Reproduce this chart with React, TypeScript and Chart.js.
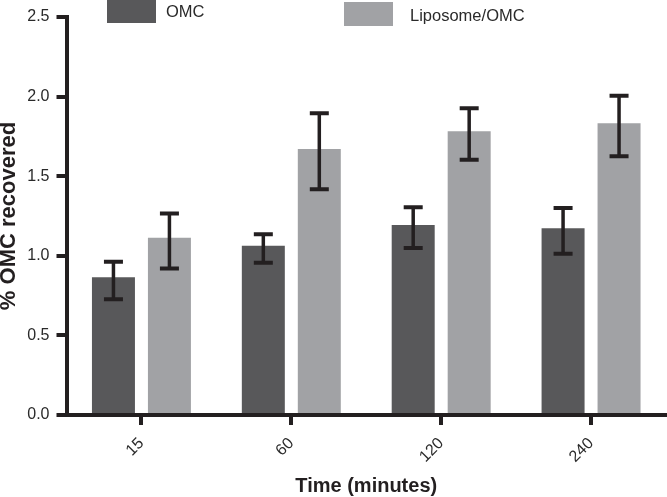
import React, { useEffect, useRef } from "react";
import { Chart, registerables } from "chart.js";

Chart.register(...registerables);

const categories = ["15", "60", "120", "240"];
const seriesNames = ["OMC", "Liposome/OMC"];
const omcMean = [0.865, 1.063, 1.193, 1.173];
const omcHigh = [0.963, 1.135, 1.305, 1.3];
const omcLow = [0.727, 0.957, 1.049, 1.013];
const lipoMean = [1.114, 1.671, 1.782, 1.832];
const lipoHigh = [1.266, 1.895, 1.927, 2.006];
const lipoLow = [0.921, 1.418, 1.604, 1.625];
const yTicks = [0, 0.5, 1.0, 1.5, 2.0, 2.5];

const AXIS = "#231f20";
const FONT = "'Liberation Sans', Arial, Helvetica, sans-serif";
const COLORS = ["#58585a", "#a1a2a5"];

const errorBarPlugin = {
  id: "errorBars",
  afterDatasetsDraw(chart: any) {
    const ctx = chart.ctx;
    const y = chart.scales.y;
    chart.data.datasets.forEach((ds: any, i: number) => {
      const meta = chart.getDatasetMeta(i);
      meta.data.forEach((bar: any, j: number) => {
        const hi = y.getPixelForValue(ds.errHigh[j]);
        const lo = y.getPixelForValue(ds.errLow[j]);
        const x = bar.x;
        const cap = 9.5;
        ctx.save();
        ctx.strokeStyle = AXIS;
        ctx.lineWidth = 3.5;
        ctx.beginPath();
        ctx.moveTo(x, hi);
        ctx.lineTo(x, lo);
        ctx.stroke();
        ctx.lineWidth = 4;
        ctx.beginPath();
        ctx.moveTo(x - cap, hi);
        ctx.lineTo(x + cap, hi);
        ctx.moveTo(x - cap, lo);
        ctx.lineTo(x + cap, lo);
        ctx.stroke();
        ctx.restore();
      });
    });
  },
};

const legendPlugin = {
  id: "customLegend",
  afterDraw(chart: any) {
    const ctx = chart.ctx;
    const items = [
      { bx: 107, by: -1, tx: 166, ty: 17 },
      { bx: 344, by: 2, tx: 410, ty: 21 },
    ];
    chart.data.datasets.forEach((ds: any, i: number) => {
      const it = items[i];
      ctx.save();
      ctx.fillStyle = ds.backgroundColor;
      ctx.fillRect(it.bx, it.by, 49, 24);
      ctx.fillStyle = "#2a2a2a";
      ctx.font = `16.5px ${FONT}`;
      ctx.textBaseline = "alphabetic";
      ctx.textAlign = "left";
      ctx.fillText(ds.label, it.tx, it.ty);
      ctx.restore();
    });
  },
};

export default function App() {
  const ref = useRef<HTMLCanvasElement | null>(null);

  useEffect(() => {
    document.body.style.margin = "0";
    const canvas = ref.current;
    if (!canvas) return;
    const chart = new Chart(canvas, {
      type: "bar",
      data: {
        labels: categories,
        datasets: [
          {
            label: seriesNames[0],
            data: omcMean,
            backgroundColor: COLORS[0],
            errHigh: omcHigh,
            errLow: omcLow,
            categoryPercentage: 0.747,
            barPercentage: 0.768,
          } as any,
          {
            label: seriesNames[1],
            data: lipoMean,
            backgroundColor: COLORS[1],
            errHigh: lipoHigh,
            errLow: lipoLow,
            categoryPercentage: 0.747,
            barPercentage: 0.768,
          } as any,
        ],
      },
      options: {
        responsive: false,
        animation: false,
        devicePixelRatio: 1,
        layout: { padding: { top: 17, right: 1, bottom: 0, left: 0 } },
        plugins: { legend: { display: false }, tooltip: { enabled: false } },
        scales: {
          x: {
            offset: true,
            grid: {
              display: true,
              offset: false,
              drawOnChartArea: false,
              drawTicks: true,
              tickLength: 10,
              color: AXIS,
              lineWidth: 4,
            },
            border: { display: true, color: AXIS, width: 4 },
            ticks: {
              color: "#2a2a2a",
              font: { family: FONT, size: 16 },
              minRotation: 45,
              maxRotation: 45,
              padding: 9,
            },
            title: {
              display: true,
              text: "Time (minutes)",
              color: AXIS,
              font: { family: FONT, size: 20, weight: "bold", lineHeight: "22px" },
              padding: 0,
            },
            afterFit(scale: any) {
              scale.height = 82;
            },
          },
          y: {
            min: 0,
            max: 2.5,
            afterBuildTicks(scale: any) {
              scale.ticks = yTicks.map((v) => ({ value: v }));
            },
            grid: {
              display: true,
              drawOnChartArea: false,
              drawTicks: true,
              tickLength: 10,
              color: AXIS,
              lineWidth: 4,
            },
            border: { display: true, color: AXIS, width: 4 },
            ticks: {
              color: "#2a2a2a",
              font: { family: FONT, size: 16 },
              padding: 7,
              callback: (v: any) => Number(v).toFixed(1),
            },
            title: {
              display: true,
              text: "% OMC recovered",
              color: AXIS,
              font: { family: FONT, size: 22, weight: "bold", lineHeight: "17px" },
              padding: 0,
            },
            afterFit(scale: any) {
              scale.width = 66.5;
            },
          },
        },
      } as any,
      plugins: [errorBarPlugin, legendPlugin],
    });
    return () => chart.destroy();
  }, []);

  return (
    <div style={{ position: "absolute", left: 0, top: 0, width: 667, height: 497, background: "#fff" }}>
      <canvas ref={ref} width={667} height={497} />
    </div>
  );
}
